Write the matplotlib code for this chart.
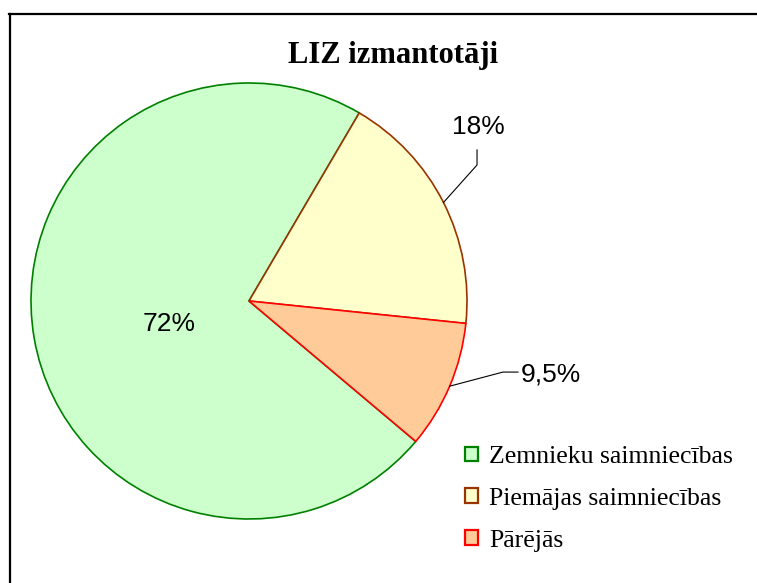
import numpy as np
import matplotlib
matplotlib.use("Agg")
import matplotlib.pyplot as plt
from matplotlib.lines import Line2D

# ---- data ----
categories = ["Zemnieku saimniecības", "Piemājas saimniecības", "Pārējās"]
values = [72.3, 18.2, 9.5]
pct_labels = ["72%", "18%", "9,5%"]
face_colors = ["#CCFFCC", "#FFFFCC", "#FFCC99"]
edge_colors = ["#008000", "#993300", "#FF0000"]
title = "LIZ izmantotāji"

W, H = 757, 583
fig = plt.figure(figsize=(W / 100, H / 100), dpi=100)
fig.patch.set_facecolor("white")

# pie axes (pixel box)
cx, cy, r = 249, 301, 218
ax = fig.add_axes([(cx - r) / W, 1 - (cy + r) / H, 2 * r / W, 2 * r / H])
wedges, _ = ax.pie(values, colors=face_colors, startangle=-40.1, counterclock=False,
                   radius=1.0, wedgeprops=dict(linewidth=1.2))
for w, ec in zip(wedges, edge_colors):
    w.set_edgecolor(ec)
ax.set_xlim(-1, 1)
ax.set_ylim(-1, 1)
ax.set_aspect("equal")
ax.axis("off")

lab_font = dict(family="Liberation Sans", fontsize=19, color="black")

def mid(w):
    return np.deg2rad((w.theta1 + w.theta2) / 2)

# inside label for first slice
a = mid(wedges[0])
ax.text(0.37 * np.cos(a), 0.37 * np.sin(a) - 0.045, pct_labels[0],
        ha="center", va="center", **lab_font)

# outside label for second slice with leader
a = mid(wedges[1])
ex, ey = np.cos(a), np.sin(a)
ax.plot([ex, 1.046, 1.046], [ey, 0.624, 0.693], color="black", lw=0.8, clip_on=False)
ax.text(1.05, 0.80, pct_labels[1], ha="center", va="center", **lab_font)

# outside label for third slice with leader
a = mid(wedges[2])
ex, ey = np.cos(a), np.sin(a)
ax.plot([ex, 1.165, 1.234], [ey, -0.326, -0.326], color="black", lw=0.8, clip_on=False)
ax.text(1.245, -0.335, pct_labels[2], ha="left", va="center", **lab_font)

# title
fig.text(393 / W, 1 - 55 / H, title, ha="center", va="center",
         family="Liberation Serif", fontweight="bold", fontsize=22)

# legend
leg = fig.legend(wedges, categories, loc="upper left",
                 bbox_to_anchor=(465 / W, 1 - 446 / H), frameon=False,
                 prop=dict(family="Liberation Serif", size=18.5),
                 handlelength=0.5, handleheight=0.5, handletextpad=0.45,
                 labelspacing=0.77, borderaxespad=0, borderpad=0)
for h in leg.legend_handles:
    h.set_linewidth(1.6)

# chart-area border (top and left visible)
fig.add_artist(Line2D([9 / W, 1], [1 - 14 / H, 1 - 14 / H], color="black", lw=1.6,
                      transform=fig.transFigure))
fig.add_artist(Line2D([10 / W, 10 / W], [1 - 14 / H, 0], color="black", lw=1.6,
                      transform=fig.transFigure))

fig.savefig("out.png", dpi=100)
